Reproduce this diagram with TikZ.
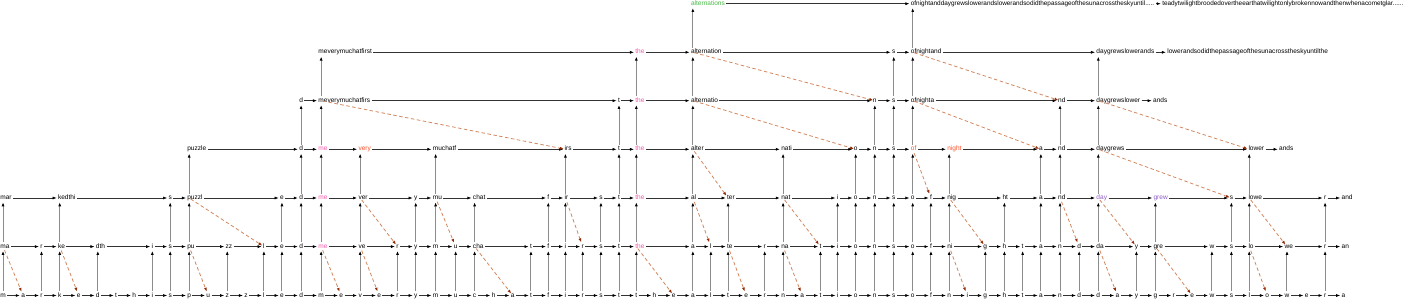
\documentclass[tikz,border=0pt]{standalone}
\usepackage{fontspec}
\setmainfont{Liberation Sans}
\usetikzlibrary{arrows.meta}
\definecolor{pinkc}{RGB}{240,90,170}
\definecolor{orangec}{RGB}{250,80,40}
\definecolor{purplec}{RGB}{140,90,200}
\definecolor{greenc}{RGB}{70,185,70}
\definecolor{dashc}{RGB}{210,135,95}
\definecolor{tipc}{RGB}{150,45,10}
\definecolor{vline}{RGB}{140,140,140}
\definecolor{hline}{RGB}{50,50,50}
\def\nonestr{none}
\newcommand\tokrow[3]{%
  \foreach \pp/\tx/\cl [remember=\pp as \qq (initially none)] in {#3}{%
    \node[tok, text=\cl] (t#1-\pp) at (c\pp.west |- row#1) {\tx};
    \node[hp] (h#1-\pp) at (c\pp.center |- row#1) {};
    \draw[varr] (h#2-\pp) -- (h#1-\pp);
    \ifx\qq\nonestr\else\draw[harr] (t#1-\qq) -- (t#1-\pp);\fi
  }%
}
\begin{document}
\begin{tikzpicture}[x=1pt,y=1pt,
  tok/.style={anchor=west, inner sep=0pt, outer sep=0pt, text height=4.9pt, text depth=1.5pt, text=black, font=\fontsize{6.55}{7}\selectfont},
  longtok/.style={tok, font=\fontsize{6.4}{7}\selectfont},
  hp/.style={inner sep=0pt, outer sep=0pt, minimum width=3pt, minimum height=8.6pt},
  harr/.style={draw=hline, line width=0.6pt, -{Latex[length=4pt,width=3pt,color=black]}, shorten <=1.5pt, shorten >=1.5pt},
  varr/.style={draw=vline, line width=1pt, -{Latex[length=4pt,width=3pt,color=black]}},
  darr/.style={draw=dashc, line width=0.8pt, dash pattern=on 3.5pt off 2.5pt, -{Latex[length=4pt,width=3pt,color=tipc]}}
]
\useasboundingbox (0,0) rectangle (1412,300);
\coordinate (row0) at (0,4.5);
\coordinate (row1) at (0,53.4);
\coordinate (row2) at (0,102);
\coordinate (row3) at (0,150.7);
\coordinate (row4) at (0,199.3);
\coordinate (row5) at (0,247.7);
\coordinate (row6) at (0,296.3);

% row 0: characters
\node[tok] (c0) at (0.3,4.5) {m};
\foreach \ch [count=\i from 1] in {a,r,k,e,d,t,h,i,s,p,u,z,z,l,e,d,m,e,v,e,r,y,m,u,c,h,a,t,f,i,r,s,t,t,h,e,a,l,t,e,r,n,a,t,i,o,n,s,o,f,n,i,g,h,t,a,n,d,d,a,y,g,r,e,w,s,l,o,w,e,r,a}{
  \pgfmathtruncatemacro\j{\i-1}
  \node[tok] (c\i) at ([xshift=15.5pt]c\j.east) {\ch};
}
\foreach \i in {0,...,72} \node[hp] (h0-\i) at (c\i.center) {};
\foreach \i in {1,...,72} {\pgfmathtruncatemacro\j{\i-1} \draw[harr] (c\j) -- (c\i);}

% row 1
\tokrow{1}{0}{0/ma/black, 2/r/black, 3/ke/black, 5/dth/black, 8/i/black, 9/s/black, 10/pu/black, 12/zz/black, 14/l/black, 15/e/black, 16/d/black, 17/me/pinkc, 19/ve/black, 21/r/black, 22/y/black, 23/m/black, 24/u/black, 25/cha/black, 28/t/black, 29/f/black, 30/i/black, 31/r/black, 32/s/black, 33/t/black, 34/the/pinkc, 37/a/black, 38/l/black, 39/te/black, 41/r/black, 42/na/black, 44/t/black, 45/i/black, 46/o/black, 47/n/black, 48/s/black, 49/o/black, 50/f/black, 51/ni/black, 53/g/black, 54/h/black, 55/t/black, 56/a/black, 57/n/black, 58/d/black, 59/da/black, 61/y/black, 62/gre/black, 65/w/black, 66/s/black, 67/lo/black, 69/we/black, 71/r/black}
\node[tok] (t1-x) at ([xshift=15.5pt]t1-71.east) {an};
\draw[harr] (t1-71) -- (t1-x);
\foreach \a/\b in {0/1, 3/4, 10/11, 17/18, 19/20, 25/27, 34/36, 39/40, 42/43, 51/52, 59/60, 62/64, 67/68}
  \draw[darr] (h1-\a) -- (h0-\b);

% row 2
\tokrow{2}{1}{0/mar/black, 3/kedthi/black, 9/s/black, 10/puzzl/black, 15/e/black, 16/d/black, 17/me/pinkc, 19/ver/black, 22/y/black, 23/mu/black, 25/chat/black, 29/f/black, 30/ir/black, 32/s/black, 33/t/black, 34/the/pinkc, 37/al/black, 39/ter/black, 42/nat/black, 45/i/black, 46/o/black, 47/n/black, 48/s/black, 49/o/black, 50/f/black, 51/nig/black, 54/ht/black, 56/a/black, 57/nd/black, 59/day/purplec, 62/grew/purplec, 66/s/black, 67/lowe/black, 71/r/black}
\node[tok] (t2-x) at ([xshift=15.5pt]t2-71.east) {and};
\draw[harr] (t2-71) -- (t2-x);
\foreach \a/\b in {10/14, 19/21, 23/24, 30/31, 37/38, 42/44, 51/53, 57/58, 59/61, 67/69}
  \draw[darr] (h2-\a) -- (h1-\b);

% row 3
\tokrow{3}{2}{10/puzzle/black, 16/d/black, 17/me/pinkc, 19/very/orangec, 23/muchatf/black, 30/irs/black, 33/t/black, 34/the/pinkc, 37/alter/black, 42/nati/black, 46/o/black, 47/n/black, 48/s/black, 49/of/orangec, 51/night/orangec, 56/a/black, 57/nd/black, 59/daygrews/black, 67/lower/black}
\node[tok] (t3-x) at ([xshift=15pt]t3-67.east) {ands};
\draw[harr] (t3-67) -- (t3-x);
\foreach \a/\b in {37/39, 49/50, 59/66}
  \draw[darr] (h3-\a) -- (h2-\b);

% row 4
\tokrow{4}{3}{16/d/black, 17/meverymuchatfirs/black, 33/t/black, 34/the/pinkc, 37/alternatio/black, 47/n/black, 48/s/black, 49/ofnighta/black, 57/nd/black, 59/daygrewslower/black}
\node[tok] (t4-x) at ([xshift=13pt]t4-59.east) {ands};
\draw[harr] (t4-59) -- (t4-x);
\foreach \a/\b in {17/30, 37/46, 49/56, 59/67}
  \draw[darr] (h4-\a) -- (h3-\b);

% row 5
\tokrow{5}{4}{17/meverymuchatfirst/black, 34/the/pinkc, 37/alternation/black, 48/s/black, 49/ofnightand/black, 59/daygrewslowerands/black}
\node[tok] (t5-x) at ([xshift=13pt]t5-59.east) {lowerandsodidthepassageofthesunacrosstheskyuntilthe};
\draw[harr] (t5-59) -- (t5-x);
\foreach \a/\b in {37/47, 49/57}
  \draw[darr] (h5-\a) -- (h4-\b);

% row 6
\node[tok, text=greenc] (t6-37) at (c37.west |- row6) {alternations};
\node[hp] (h6-37) at (c37.center |- row6) {};
\node[longtok] (t6-49) at (c49.west |- row6) {ofnightanddaygrewslowerandslowerandsodidthepassageofthesunacrosstheskyuntil.....};
\node[hp] (h6-49) at (c49.center |- row6) {};
\node[longtok] (t6-x) at ([xshift=8pt]t6-49.east) {teadytwilightbroodedovertheearthatwilightonlybrokennowandthenwhenacometglar......};
\draw[varr] (h5-37) -- (h6-37);
\draw[varr] (h5-49) -- (h6-49);
\draw[harr] (t6-37) -- (t6-49);
\draw[harr] (t6-49) -- (t6-x);
\end{tikzpicture}
\end{document}
